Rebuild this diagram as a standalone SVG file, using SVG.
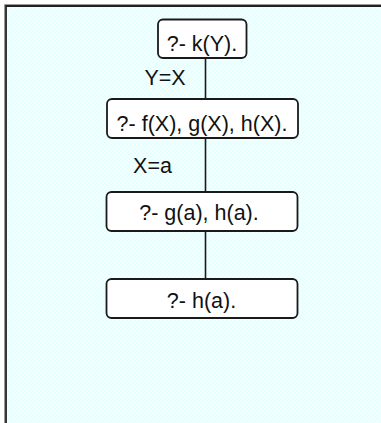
<svg xmlns="http://www.w3.org/2000/svg" width="381" height="423" viewBox="0 0 381 423">
  <style>
    .box { fill: #ffffff; stroke: #1a1a1a; stroke-width: 1.8; }
    .lbl { font-family: "Liberation Sans", Arial, sans-serif; font-size: 21.5px; fill: #111111; }
    .conn { stroke: #1a1a1a; stroke-width: 1.6; fill: none; }
  </style>
  <defs>
    <pattern id="chk" width="4" height="4" patternUnits="userSpaceOnUse">
      <rect width="4" height="4" fill="#e6ffff"/>
      <rect width="2" height="2" fill="#f3ffff"/>
      <rect x="2" y="2" width="2" height="2" fill="#f3ffff"/>
    </pattern>
  </defs>
  <rect x="0" y="0" width="381" height="423" fill="#ffffff"/>
  <rect x="6" y="6" width="380" height="420" fill="url(#chk)"/>
  <path d="M4.5 423 V4.5 H381" stroke="#9a9a9a" stroke-width="1" fill="none"/>
  <path d="M6 423 V6 H381" stroke="#222222" stroke-width="1.8" fill="none"/>
  <g id="connectors">
    <line class="conn" x1="205.5" y1="58" x2="205.5" y2="99"/>
    <line class="conn" x1="205.5" y1="138" x2="205.5" y2="192"/>
    <line class="conn" x1="205.5" y1="231" x2="205.5" y2="279"/>
    <text class="lbl" x="165" y="85" text-anchor="middle">Y=X</text>
    <text class="lbl" x="152.5" y="173" text-anchor="middle">X=a</text>
  </g>
  <g id="n1">
    <rect class="box" x="158" y="19.5" width="88.5" height="38.5" rx="5"/>
    <text class="lbl" x="202" y="51" text-anchor="middle">?- k(Y).</text>
  </g>
  <g id="n2">
    <rect class="box" x="107" y="99" width="191" height="39" rx="5"/>
    <text class="lbl" x="202" y="131" text-anchor="middle">?- f(X), g(X), h(X).</text>
  </g>
  <g id="n3">
    <rect class="box" x="106.5" y="192" width="191" height="39" rx="5"/>
    <text class="lbl" x="199" y="220" text-anchor="middle">?- g(a), h(a).</text>
  </g>
  <g id="n4">
    <rect class="box" x="106.5" y="279" width="191" height="39" rx="5"/>
    <text class="lbl" x="201.5" y="308" text-anchor="middle">?- h(a).</text>
  </g>
</svg>
